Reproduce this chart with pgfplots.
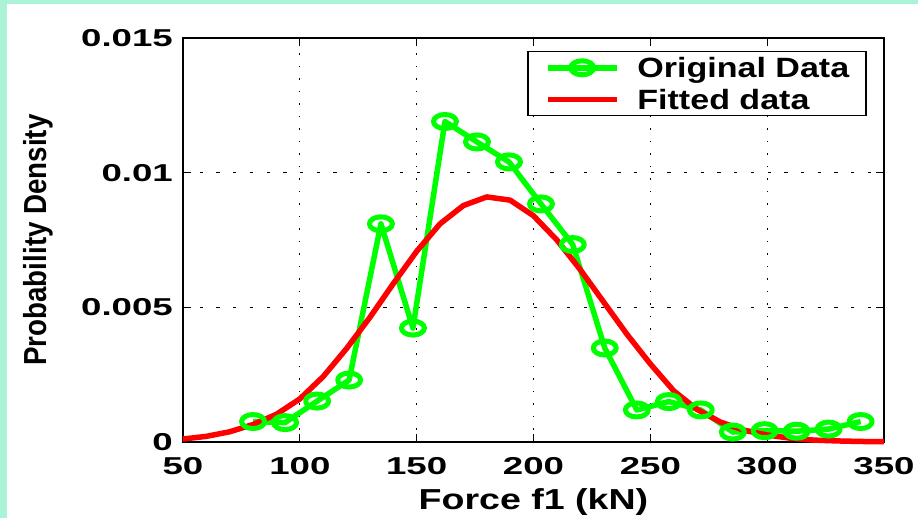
\documentclass[border=0pt]{standalone}
\usepackage{fontspec}
\setmainfont{Liberation Sans}
\newfontfamily\tickf[FakeStretch=1.5]{Liberation Sans}
\newfontfamily\labf[FakeStretch=1.3]{Liberation Sans}
\newfontfamily\legf[FakeStretch=1.22]{Liberation Sans}
\newfontfamily\ylabf[FakeStretch=0.87]{Liberation Sans}
\usepackage{pgfplots}
\pgfplotsset{compat=1.18}
\definecolor{mint}{HTML}{AAF3D6}
\definecolor{mgreen}{HTML}{00FF00}
\definecolor{mred}{HTML}{FF0000}
\begin{document}
\begin{tikzpicture}
\fill[mint] (0,0) rectangle (918bp,-518bp);
\fill[white] (7bp,-4bp) rectangle (918bp,-518bp);
\begin{axis}[
  at={(183bp,-442bp)}, anchor=south west,
  width=701bp, height=404bp, scale only axis,
  xmin=50, xmax=350, ymin=0, ymax=0.015,
  xtick={50,100,150,200,250,300,350},
  xticklabels={50,100,150,200,250,300,350},
  ytick={0,0.005,0.01,0.015},
  yticklabels={0,0.005,0.01,0.015},
  scaled y ticks=false, scaled x ticks=false,
  grid=major,
  every axis x grid/.style={black, line width=1.2bp, dash pattern=on 1.5bp off 11bp},
  every axis y grid/.style={black, line width=1.2bp, dash pattern=on 3.3bp off 13.4bp},
  axis line style={black, line width=1.8bp},
  tick style={black, line width=1.2bp},
  major tick length=8bp,
  tick align=inside,
  clip=false,
  /pgf/number format/assume math mode=true,
  ticklabel style={font=\tickf\bfseries\fontsize{24.5}{25}\selectfont},
  xticklabel style={inner sep=0pt, yshift=-15bp},
  yticklabel style={inner sep=0pt, xshift=-10bp},
  xlabel={Force f1 (kN)},
  xlabel style={font=\labf\bfseries\fontsize{29}{30}\selectfont, at={(axis description cs:0.5,-0.168)}, anchor=base},
  ylabel={Probability Density},
  ylabel style={font=\ylabf\bfseries\fontsize{32}{33}\selectfont, at={(axis description cs:-0.207,0.5)}, anchor=center},
  legend style={at={(axis description cs:0.9757,0.968)}, anchor=north east, draw=black, line width=1.5bp, fill=white,
    font=\legf\bfseries\fontsize{28}{30}\selectfont, inner xsep=17bp, inner ysep=6bp,
    nodes={inner sep=0pt, text depth=0pt}, row sep=11.6bp, column sep=18bp},
  legend cell align=left,
  legend image code/.code={\draw[mark repeat=2,mark phase=2,#1] plot coordinates {(0bp,0bp)(34.5bp,0bp)(69bp,0bp)};},
]
\addplot[mgreen, line width=5.5bp, line join=round, mark=o, mark size=7bp, mark options={xscale=1.64, line width=5bp, solid}] coordinates {
(80.0,0.00076) (93.7,0.00072) (107.4,0.00152) (121.1,0.0023) (134.7,0.0081)
(148.4,0.00423) (162.1,0.0119) (175.8,0.01114) (189.5,0.0104) (203.2,0.00884)
(216.8,0.00733) (230.5,0.00349) (244.2,0.00119) (257.9,0.0015) (271.6,0.00119)
(285.3,0.00037) (298.9,0.00042) (312.6,0.0004) (326.3,0.00048) (340.0,0.00076)
};
\addlegendentry{Original Data}
\addplot[mred, line width=5.5bp, line join=round] coordinates {
(50,0.00011) (60,0.00021) (70,0.00038) (80,0.00065) (90,0.00103) (100,0.0016)
(110,0.00243) (120,0.00347) (130,0.00463) (140,0.00588) (150,0.00708)
(160,0.0081) (170,0.00878) (180,0.0091) (190,0.00898) (200,0.0084)
(210,0.0075) (220,0.0064) (230,0.0052) (240,0.0040) (250,0.0029)
(260,0.0019) (270,0.00121) (280,0.00074) (290,0.00044) (300,0.00026)
(310,0.00014) (320,0.00007) (330,0.00004) (340,0.00002) (350,0.00001)
};
\addlegendentry{Fitted data}
\end{axis}
\pgfresetboundingbox
\useasboundingbox (0,0) rectangle (918bp,-518bp);
\end{tikzpicture}
\end{document}
